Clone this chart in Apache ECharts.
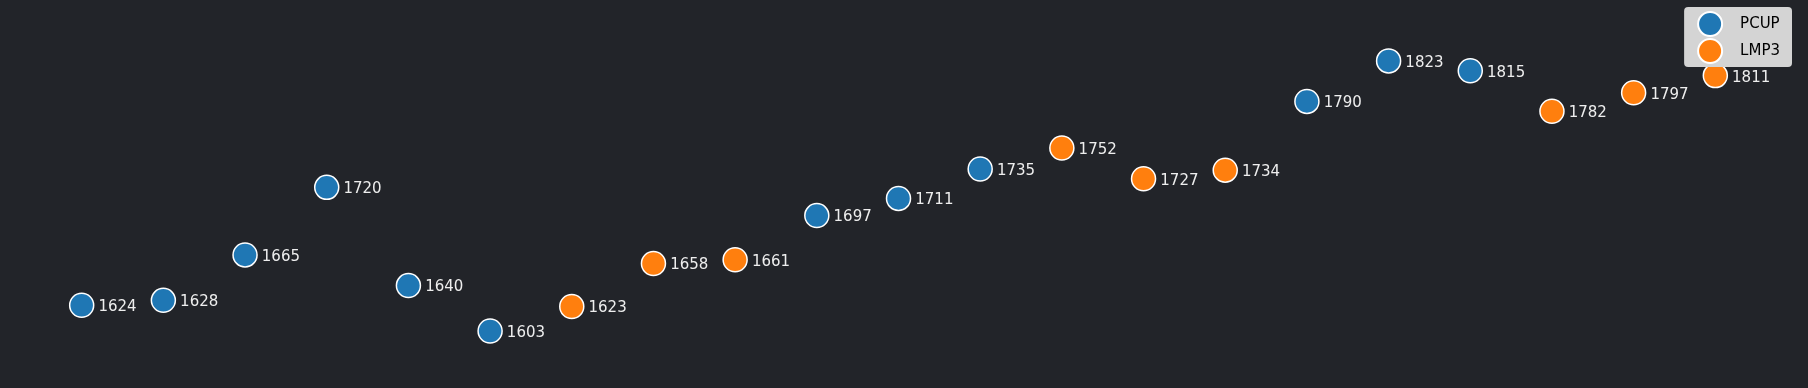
<!DOCTYPE html>
<html>
<head>
<meta charset="utf-8">
<script src="https://cdn.jsdelivr.net/npm/echarts@6/dist/echarts.min.js"></script>
<style>
html,body{margin:0;padding:0;background:#222429;}
#chart{width:1808px;height:388px;}
</style>
</head>
<body>
<div id="chart"></div>
<script>
var pcupPositions = [0, 1, 2, 3, 4, 5, 9, 10, 11, 15, 16, 17];
var pcupValues    = [1624, 1628, 1665, 1720, 1640, 1603, 1697, 1711, 1735, 1790, 1823, 1815];
var lmp3Positions = [6, 7, 8, 12, 13, 14, 18, 19, 20];
var lmp3Values    = [1623, 1658, 1661, 1752, 1727, 1734, 1782, 1797, 1811];
var seriesNames = ['PCUP', 'LMP3'];

function pairs(xs, ys){ return xs.map(function(x,i){ return [x, ys[i]]; }); }

var chart = echarts.init(document.getElementById('chart'));
var labelStyle = {
  show: true, position: 'right', distance: 5, offset: [-1, 2],
  formatter: function(p){ return p.value[1]; },
  color: '#eeeeee', fontFamily: 'DejaVu Sans', fontSize: 15
};
chart.setOption({
  backgroundColor: '#222429',
  animation: false,
  grid: {left: 0, width: 1797, top: 40, bottom: 41},
  xAxis: {type: 'value', min: -1, max: 21, show: false},
  yAxis: {type: 'value', min: 1590, max: 1840, show: false},
  legend: {
    orient: 'vertical', right: 16, top: 7,
    data: seriesNames,
    icon: 'circle', itemWidth: 24, itemHeight: 24, itemGap: 1,
    backgroundColor: '#d4d4d4', borderRadius: 4,
    padding: [4, 12, 3, 13],
    textStyle: {color: '#000000', fontFamily: 'DejaVu Sans', fontSize: 15, padding: [0,0,0,13]},
    z: 10
  },
  series: [
    {
      name: 'PCUP', type: 'scatter', symbolSize: 24,
      data: pairs(pcupPositions, pcupValues),
      itemStyle: {color: '#1f77b4', borderColor: '#ffffff', borderWidth: 1.5, opacity: 1},
      label: labelStyle
    },
    {
      name: 'LMP3', type: 'scatter', symbolSize: 24,
      data: pairs(lmp3Positions, lmp3Values),
      itemStyle: {color: '#ff7f0e', borderColor: '#ffffff', borderWidth: 1.5, opacity: 1},
      label: labelStyle
    }
  ]
});
</script>
</body>
</html>
